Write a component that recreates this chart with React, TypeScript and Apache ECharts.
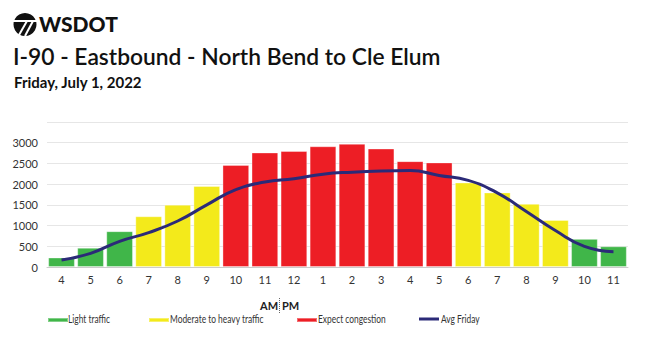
import React, { useEffect, useRef } from "react";
import * as echarts from "echarts";

const hours = ["4", "5", "6", "7", "8", "9", "10", "11", "12", "1", "2", "3", "4", "5", "6", "7", "8", "9", "10", "11"];
const volumes = [230, 465, 865, 1225, 1505, 1955, 2465, 2765, 2800, 2915, 2975, 2860, 2555, 2525, 2040, 1800, 1525, 1135, 680, 500];
const levels = ["light", "light", "light", "mod", "mod", "mod", "cong", "cong", "cong", "cong", "cong", "cong", "cong", "cong", "mod", "mod", "mod", "mod", "light", "light"];
const avgFriday = [170, 330, 620, 830, 1110, 1500, 1870, 2050, 2130, 2240, 2290, 2320, 2330, 2210, 2090, 1790, 1340, 880, 500, 370];
const yTicks = [0, 500, 1000, 1500, 2000, 2500, 3000];

const names = { light: "Light traffic", mod: "Moderate to heavy traffic", cong: "Expect congestion" };
const avgName = "Avg Friday";
const colors = { light: "#40b649", mod: "#f3ea1b", cong: "#ed1e25" };

export default function App() {
  const ref = useRef<HTMLDivElement>(null);
  useEffect(() => {
    const chart = echarts.init(ref.current!, null, { renderer: "svg" });
    const font = "Lato, 'Open Sans', sans-serif";
    const barSeries = (["light", "mod", "cong"] as const).map((k) => ({
      name: names[k],
      type: "bar",
      stack: "v",
      barCategoryGap: "8%",
      itemStyle: { color: colors[k], borderColor: "rgba(255,255,255,0.35)", borderWidth: 1 },
      data: volumes.map((v, i) => (levels[i] === k ? v : "-")),
    }));
    const legendBase = {
      icon: "rect",
      itemWidth: 20,
      itemHeight: 4,
      top: 317,
      padding: 0,
      formatter: () => "",
      textStyle: { fontSize: 1 },
      selectedMode: false,
    };
    const legendLabels = [
      { x: 68, text: names.light },
      { x: 170, text: names.mod },
      { x: 318, text: names.cong },
      { x: 441, text: avgName },
    ];
    chart.setOption({
      animation: false,
      textStyle: { fontFamily: font },
      grid: { left: 47, right: 22, top: 122, bottom: 70 },
      legend: [
        { ...legendBase, left: 47, data: [names.light] },
        { ...legendBase, left: 148, data: [names.mod] },
        { ...legendBase, left: 296, data: [names.cong] },
        { ...legendBase, left: 419, top: 317.5, itemHeight: 3, data: [{ name: avgName, icon: "rect" }] },
      ],
      xAxis: {
        type: "category",
        data: hours,
        axisLine: { lineStyle: { color: "#ccc" } },
        axisTick: { lineStyle: { color: "#bbb" }, length: 5 },
        axisLabel: { color: "#333", fontSize: 11, margin: 7, fontFamily: font },
      },
      yAxis: {
        type: "value",
        min: 0,
        max: 3500,
        interval: 500,
        axisLabel: {
          color: "#333",
          fontSize: 11,
          margin: 9,
          fontFamily: font,
          formatter: (v: number) => (yTicks.includes(v) ? String(v) : ""),
        },
        splitLine: { lineStyle: { color: "#e6e6e6" } },
      },
      series: [
        ...barSeries,
        {
          name: avgName,
          type: "line",
          smooth: true,
          symbol: "none",
          data: avgFriday,
          itemStyle: { color: "#2b2a78" },
          lineStyle: { color: "#2b2a78", width: 3 },
          z: 5,
        },
      ],
      graphic: [
        { type: "circle", shape: { cx: 25, cy: 24.5, r: 11.5 }, style: { fill: "#111" } },
        { type: "line", shape: { x1: 13, y1: 21, x2: 37, y2: 21 }, style: { stroke: "#fff", lineWidth: 2 } },
        { type: "line", shape: { x1: 27, y1: 21, x2: 19, y2: 35 }, style: { stroke: "#fff", lineWidth: 2 } },
        { type: "line", shape: { x1: 33, y1: 21, x2: 25, y2: 36 }, style: { stroke: "#fff", lineWidth: 2 } },
        {
          type: "text",
          left: 39,
          top: 13,
          style: { text: "WSDOT", font: `900 21px ${font}`, fill: "#111" },
        },
        {
          type: "text",
          left: 13,
          top: 44,
          style: { text: "I-90 - Eastbound - North Bend to Cle Elum", font: `600 22.8px ${font}`, fill: "#111" },
        },
        {
          type: "text",
          left: 14,
          top: 74,
          style: { text: "Friday, July 1, 2022", font: `bold 15px ${font}`, fill: "#111" },
        },
        {
          type: "text",
          left: 260,
          top: 300,
          style: { text: "AM", font: `bold 11px ${font}`, fill: "#222" },
        },
        {
          type: "line",
          shape: { x1: 279.5, y1: 298, x2: 279.5, y2: 313 },
          style: { stroke: "#666", lineWidth: 1, lineDash: [1, 1] },
        },
        {
          type: "text",
          left: 282,
          top: 300,
          style: { text: "PM", font: `bold 11px ${font}`, fill: "#222" },
        },
        ...legendLabels.map((l) => ({
          type: "text",
          x: l.x,
          y: 319,
          scaleX: 0.8,
          style: { text: l.text, font: `10.5px ${font}`, fill: "#333", verticalAlign: "middle", align: "left" },
        })),
      ],
    });
    return () => chart.dispose();
  }, []);
  return <div ref={ref} style={{ width: 650, height: 337, position: "absolute", left: 0, top: 0 }} />;
}
